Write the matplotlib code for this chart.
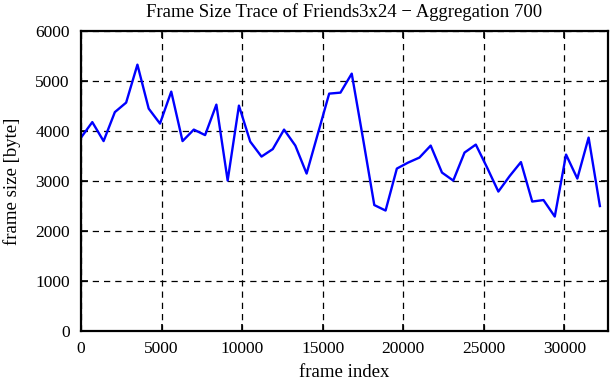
import matplotlib
matplotlib.use("Agg")
import matplotlib.pyplot as plt

# aggregated frame sizes, one point every 700 frames
step = 700
frame_size = [3870, 4180, 3800, 4380, 4570, 5330, 4450, 4150, 4790, 3800,
              4030, 3920, 4530, 3010, 4510, 3790, 3490, 3640, 4030, 3710,
              3150, 3950, 4750, 4770, 5150, 3850, 2520, 2410, 3250, 3370,
              3470, 3710, 3170, 3010, 3570, 3730, 3270, 2790, 3100, 3380,
              2590, 2620, 2290, 3530, 3050, 3870, 2500]
frame_index = [i * step for i in range(len(frame_size))]

xticks = [0, 5000, 10000, 15000, 20000, 25000, 30000]
yticks = [0, 1000, 2000, 3000, 4000, 5000, 6000]

plt.rcParams['font.family'] = ['Liberation Serif', 'DejaVu Serif']

fig = plt.figure(figsize=(6.11, 3.80), dpi=100)
ax = fig.add_axes([0.1326, 0.129, 0.8624, 0.789])

ax.plot(frame_index, frame_size, color="#0000ff", linewidth=1.7)

ax.set_xlim(0, 32700)
ax.set_ylim(0, 6000)
ax.set_xticks(xticks)
ax.set_yticks(yticks)
ax.grid(True, color="black", linestyle=(0, (5, 4)), linewidth=0.9)

ax.tick_params(direction="in", length=5, width=1.2, top=True, right=True,
               labelsize=12.5)
ax.tick_params(axis="y", pad=8)
ax.tick_params(axis="x", pad=7)
for s in ax.spines.values():
    s.set_linewidth(1.6)

ax.set_title("Frame Size Trace of Friends3x24 \u2212 Aggregation 700", fontsize=13.5, pad=10.5)
ax.set_xlabel("frame index", fontsize=13.5, labelpad=5)
ax.set_ylabel("frame size [byte]", fontsize=13.5, labelpad=10)

fig.savefig("out.png", dpi=100)
